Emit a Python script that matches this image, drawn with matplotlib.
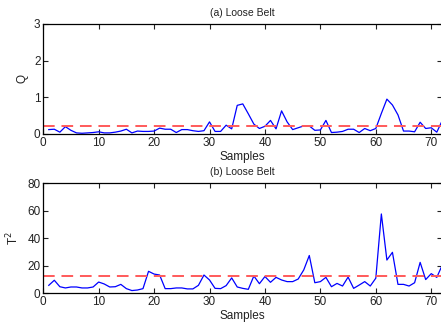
import matplotlib
matplotlib.use("Agg")
import matplotlib.pyplot as plt

# sample index 1..72
samples = list(range(1, 73))

q_values = [0.12, 0.13, 0.05, 0.20, 0.10, 0.03, 0.02, 0.03, 0.04, 0.06,
            0.03, 0.03, 0.05, 0.08, 0.13, 0.03, 0.08, 0.07, 0.07, 0.08,
            0.16, 0.13, 0.13, 0.04, 0.12, 0.12, 0.09, 0.07, 0.09, 0.33,
            0.07, 0.07, 0.24, 0.14, 0.78, 0.82, 0.55, 0.27, 0.15, 0.21,
            0.37, 0.14, 0.63, 0.33, 0.12, 0.17, 0.22, 0.22, 0.10, 0.11,
            0.37, 0.04, 0.05, 0.07, 0.13, 0.13, 0.04, 0.15, 0.09, 0.15,
            0.56, 0.95, 0.79, 0.52, 0.08, 0.08, 0.06, 0.32, 0.15, 0.17,
            0.05, 0.37]
q_limit = 0.22

t2_values = [5.8, 9.5, 4.8, 3.9, 4.6, 4.6, 3.9, 3.9, 4.6, 8.2,
             6.8, 4.6, 4.8, 6.5, 3.4, 2.0, 2.4, 3.4, 16.0, 14.0,
             13.3, 3.4, 3.4, 3.9, 3.9, 3.2, 3.2, 5.8, 13.3, 9.7,
             3.6, 3.4, 5.6, 11.2, 4.6, 3.6, 2.9, 12.6, 7.0, 12.2,
             8.0, 11.6, 9.7, 8.5, 8.5, 10.4, 17.0, 27.5, 7.7, 8.5,
             11.6, 4.8, 7.2, 5.3, 11.8, 3.6, 6.0, 8.5, 5.3, 11.0,
             57.7, 24.2, 29.8, 6.5, 6.5, 5.3, 7.7, 22.5, 10.0, 14.3,
             11.6, 20.6]
t2_limit = 12.8

plt.rcParams.update({
    "font.family": ["Liberation Sans", "DejaVu Sans"],
    "font.size": 8.5,
    "text.color": "#222222",
    "axes.labelcolor": "#222222",
    "xtick.color": "#222222",
    "ytick.color": "#222222",
    "xtick.direction": "in",
    "ytick.direction": "in",
    "xtick.top": True,
    "ytick.right": True,
    "xtick.major.size": 3.5,
    "ytick.major.size": 3.5,
    "axes.linewidth": 0.9,
})

fig = plt.figure(figsize=(4.41, 3.25), dpi=100)
ax_q = fig.add_axes([0.098, 0.5877, 0.905, 0.3388])
ax_t = fig.add_axes([0.098, 0.0975, 0.905, 0.3385])

panels = [
    (ax_q, q_values, q_limit, (0, 3), [0, 1, 2, 3], "Q", "(a) Loose Belt"),
    (ax_t, t2_values, t2_limit, (0, 80), [0, 20, 40, 60, 80], "T$^2$", "(b) Loose Belt"),
]

for ax, vals, limit, ylim, yticks, ylabel, title in panels:
    ax.plot(samples, vals, color="#0000ff", lw=0.9)
    ax.axhline(limit, color="#ff5a5a", lw=1.4, ls=(0, (6, 3.5)))
    ax.set_xlim(0, 72)
    ax.set_ylim(*ylim)
    ax.set_xticks(range(0, 71, 10))
    ax.set_yticks(yticks)
    ax.set_xlabel("Samples", labelpad=1.5)
    ax.set_ylabel(ylabel, labelpad=4)
    ax.set_title(title, fontsize=7.5, pad=6)
    ax.tick_params(pad=2)

fig.savefig("out.png", dpi=100)
